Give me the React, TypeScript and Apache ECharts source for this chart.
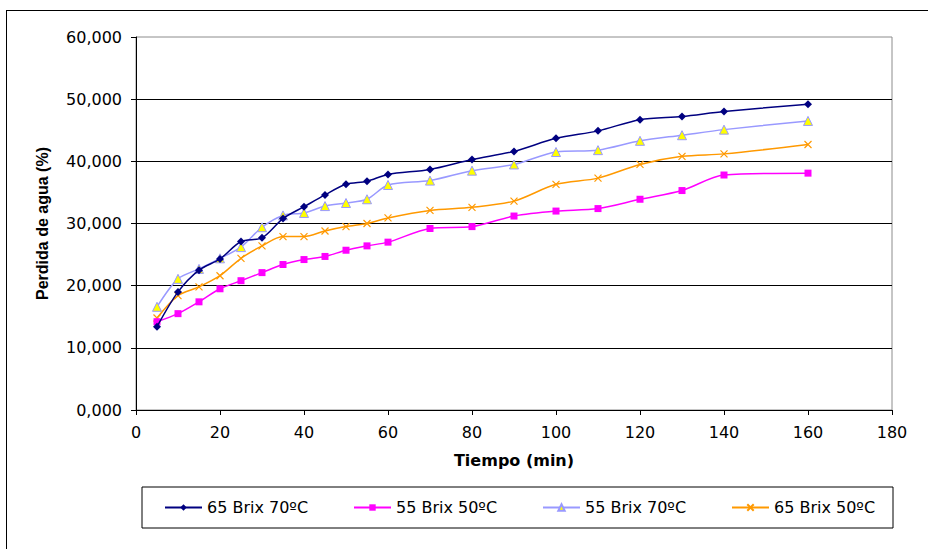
import React, { useEffect, useRef } from "react";
import * as echarts from "echarts";

// Tiempo (min)
const tiempo = [5, 10, 15, 20, 25, 30, 35, 40, 45, 50, 55, 60, 70, 80, 90, 100, 110, 120, 130, 140, 160];

// Perdida de agua (%)
const brix65t70 = [13.4, 19.0, 22.5, 24.3, 27.1, 27.7, 30.8, 32.7, 34.6, 36.3, 36.8, 37.9, 38.7, 40.3, 41.6, 43.7, 44.9, 46.7, 47.2, 48.0, 49.2];
const brix55t50 = [14.2, 15.5, 17.4, 19.5, 20.8, 22.1, 23.4, 24.2, 24.7, 25.7, 26.4, 27.0, 29.2, 29.5, 31.2, 32.0, 32.4, 33.9, 35.3, 37.8, 38.1];
const brix55t70 = [16.6, 21.1, 22.7, 24.4, 26.2, 29.4, 31.3, 31.7, 32.8, 33.3, 33.9, 36.2, 36.9, 38.5, 39.5, 41.5, 41.8, 43.3, 44.2, 45.1, 46.5];
const brix65t50 = [14.8, 18.4, 19.8, 21.6, 24.4, 26.4, 27.9, 27.9, 28.8, 29.5, 30.0, 30.9, 32.1, 32.6, 33.6, 36.3, 37.3, 39.5, 40.8, 41.2, 42.7];

const seriesNames = ["65 Brix 70ºC", "55 Brix 50ºC", "55 Brix 70ºC", "65 Brix 50ºC"];

const xAxisTitle = "Tiempo (min)";
const yAxisTitle = "Perdida de agua (%)";

const FONT = "DejaVu Sans";

export default function App() {
  const ref = useRef<HTMLDivElement>(null);

  useEffect(() => {
    const chart = echarts.init(ref.current!, null, { renderer: "svg" });
    const pair = (ys: number[]) => tiempo.map((t, i) => [t, ys[i]]);
    const smooth = 0.3;

    chart.setOption({
      animation: false,
      backgroundColor: "#ffffff",
      textStyle: { fontFamily: FONT, color: "#000" },
      graphic: [
        {
          type: "line",
          shape: { x1: 6.5, y1: 10.5, x2: 6.5, y2: 549 },
          style: { stroke: "#000", lineWidth: 1 },
          silent: true,
        },
        {
          type: "line",
          shape: { x1: 6, y1: 10.5, x2: 928, y2: 10.5 },
          style: { stroke: "#000", lineWidth: 1 },
          silent: true,
        },
      ],
      grid: {
        left: 136,
        top: 37,
        right: 36,
        bottom: 139,
        show: true,
        borderColor: "#8c8c8c",
        borderWidth: 1,
        backgroundColor: "#fff",
      },
      xAxis: {
        type: "value",
        min: 0,
        max: 180,
        interval: 20,
        name: xAxisTitle,
        nameLocation: "middle",
        nameGap: 42,
        nameTextStyle: { fontFamily: FONT, fontWeight: "bold", fontSize: 16, color: "#000" },
        axisLine: { show: true, onZero: false, lineStyle: { color: "#000", width: 1 } },
        axisTick: { show: true, inside: false, length: 5, lineStyle: { color: "#000" } },
        axisLabel: { fontFamily: FONT, fontSize: 16, color: "#000", margin: 14 },
        splitLine: { show: false },
      },
      yAxis: {
        type: "value",
        min: 0,
        max: 60,
        interval: 10,
        name: yAxisTitle,
        nameLocation: "middle",
        nameRotate: 90,
        nameGap: 86,
        nameTextStyle: { fontFamily: "Liberation Sans", fontWeight: "bold", fontSize: 16, color: "#000" },
        axisLine: { show: true, lineStyle: { color: "#000", width: 1 } },
        axisTick: { show: true, inside: false, length: 5, lineStyle: { color: "#000" } },
        axisLabel: {
          fontFamily: FONT,
          fontSize: 16,
          color: "#000",
          margin: 14,
          formatter: (v: number) => v.toFixed(3).replace(".", ","),
        },
        splitLine: { show: true, showMaxLine: false, lineStyle: { color: "#000", width: 1 } },
      },
      legend: {
        left: 142,
        top: 487,
        orient: "horizontal",
        padding: [12, 12, 12, 22],
        itemGap: 39,
        itemWidth: 37,
        itemHeight: 8,
        borderColor: "#000",
        borderWidth: 1,
        borderRadius: 0,
        textStyle: { fontFamily: FONT, fontSize: 16, color: "#000", width: 107, lineHeight: 17 },
        data: seriesNames,
      },
      series: [
        {
          name: seriesNames[0],
          type: "line",
          data: pair(brix65t70),
          smooth,
          symbol: "diamond",
          symbolSize: 8,
          lineStyle: { color: "#000080", width: 1.5 },
          itemStyle: { color: "#000080" },
          z: 5,
        },
        {
          name: seriesNames[1],
          type: "line",
          data: pair(brix55t50),
          smooth,
          symbol: "rect",
          symbolSize: 7,
          lineStyle: { color: "#ff00ff", width: 1.5 },
          itemStyle: { color: "#ff00ff" },
          z: 3,
        },
        {
          name: seriesNames[2],
          type: "line",
          data: pair(brix55t70),
          smooth,
          symbol: "triangle",
          symbolSize: 9,
          lineStyle: { color: "#9999ff", width: 1.5 },
          itemStyle: { color: "#ffff00", borderColor: "#9999ff", borderWidth: 1 },
          z: 4,
        },
        {
          name: seriesNames[3],
          type: "line",
          data: pair(brix65t50),
          smooth,
          symbol: "path://M0,0L10,10M10,0L0,10",
          symbolSize: 7,
          lineStyle: { color: "#ff9900", width: 1.5 },
          itemStyle: { color: "none", borderColor: "#ff9900", borderWidth: 1.2 },
          z: 2,
        },
      ],
    });

    return () => chart.dispose();
  }, []);

  return (
    <div
      ref={ref}
      style={{ position: "fixed", left: 0, top: 0, width: 928, height: 549, background: "#fff" }}
    />
  );
}
